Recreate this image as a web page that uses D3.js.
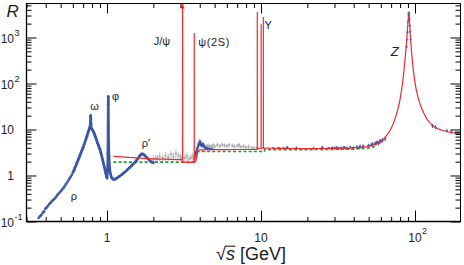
<!DOCTYPE html>
<html><head><meta charset="utf-8">
<script src="https://cdn.jsdelivr.net/npm/d3@7/dist/d3.min.js"></script>
<style>
html,body{margin:0;padding:0;background:#fff;}
svg{display:block;font-family:"Liberation Sans",Arial,Helvetica,sans-serif;}
</style></head><body>
<svg id="c" width="464" height="265"></svg>
<script>
// ---------------- DATA (sqrt(s) in GeV, R) ----------------
const xMajor = [1, 10, 100];
const xTickLabels = [["1",""],["10",""],["10","2"]];
const yMajor = [0.1, 1, 10, 100, 1000];
const yTickLabels = [["10","-1"],["1",""],["10",""],["10","2"],["10","3"]];

// rho tail, sparse blue points
const rhoTail = [[0.36,0.12],[0.368,0.13],[0.375,0.14],[0.383,0.155],[0.39,0.165],[0.398,0.19],[0.405,0.2],[0.412,0.215],[0.42,0.235],[0.428,0.25],[0.436,0.27],[0.445,0.29],[0.455,0.31],[0.463,0.33],[0.472,0.36],[0.48,0.39],[0.49,0.42],[0.5,0.45],[0.51,0.49],[0.52,0.53],[0.53,0.58],[0.54,0.64],[0.55,0.7],[0.56,0.77],[0.57,0.85],[0.58,0.93],[0.59,1.02]];
// dense blue data: rho/omega/phi/rho'
const lowDense = [[0.6,1.15],[0.61,1.3],[0.62,1.5],[0.63,1.7],[0.64,1.95],[0.65,2.2],[0.66,2.5],[0.67,2.85],[0.68,3.25],[0.69,3.65],[0.7,4.1],[0.71,4.7],[0.72,5.4],[0.73,6.2],[0.74,7.1],[0.75,8.2],[0.76,9.4],[0.77,10.5],[0.775,11.5],[0.779,14],[0.782,19],[0.784,20],[0.787,13],[0.79,10.5],[0.8,10],[0.81,9.4],[0.82,8.7],[0.83,7.8],[0.84,7.0],[0.85,6.3],[0.86,5.6],[0.87,5.0],[0.88,4.5],[0.89,4.0],[0.9,3.7],[0.91,3.2],[0.92,2.8],[0.93,2.4],[0.94,2.1],[0.95,1.8],[0.96,1.55],[0.97,1.35],[0.98,1.15],[0.99,0.97],[1.0,0.88],[1.008,1.3],[1.013,3],[1.016,12],[1.018,35],[1.019,52],[1.02,40],[1.022,14],[1.025,5],[1.03,2.6],[1.04,1.5],[1.05,1.1],[1.07,0.9],[1.09,0.84],[1.11,0.82],[1.13,0.84],[1.16,0.88],[1.2,0.95],[1.25,1.05],[1.3,1.17],[1.35,1.32],[1.4,1.48],[1.45,1.65],[1.5,1.85],[1.55,2.1],[1.6,2.4],[1.64,2.75],[1.68,2.95],[1.72,2.9],[1.76,2.7],[1.8,2.5],[1.85,2.3],[1.9,2.1],[1.95,1.95],[2.0,1.9]];
// charm threshold region, blue
const charmBlue = [[3.76,2.6],[3.78,3.0],[3.8,3.3],[3.83,3.6],[3.86,3.9],[3.9,4.2],[3.94,4.6],[3.98,5.1],[4.02,5.4],[4.05,5.0],[4.08,4.6],[4.12,4.4],[4.16,4.7],[4.2,4.8],[4.25,4.4],[4.3,4.1],[4.36,4.0],[4.42,3.9],[4.5,3.85],[4.6,3.8],[4.7,3.75],[4.8,3.8]];
// high energy blue [sqrt s, R, err]
const highBlue = [[12,3.95,0.2],[13,4.0,0.2],[14,3.95,0.2],[14.8,4.1,0.3],[17,3.95,0.3],[22,3.9,0.3],[25,4.1,0.3],[27.5,4.0,0.2],[29,4.05,0.2],[30,3.95,0.3],[31,4.1,0.3],[32,3.9,0.3],[33,4.0,0.3],[34.5,4.15,0.2],[35,4.05,0.2],[36,3.95,0.3],[38,4.15,0.3],[39.8,4.05,0.3],[42,4.2,0.4],[43.6,4.1,0.3],[44,4.3,0.4],[46,4.35,0.4],[50,4.5,0.4],[52,4.65,0.4],[53,4.8,0.5],[55,4.9,0.5],[56,5.1,0.6],[57,5.2,0.5],[58,5.0,0.5],[59,5.5,0.6],[60,5.6,0.6],[61.4,5.8,0.7],[64,6.3,0.7]];
// Z pole points
const zPeak = [[88.2,620],[88.9,900],[89.4,1300],[90.2,2200],[91.0,3200],[91.2,3450],[91.3,3100],[91.5,3300],[92.0,2500],[92.5,1800],[93.0,1350],[93.7,900]];
// LEP2 points [sqrt s, R, err]
const lep2 = [[130,12,1.2],[136,11.2,1.1],[161,9.4,0.8],[172,8.9,0.8],[183,8.6,0.5],[189,8.4,0.4],[192,8.3,0.6]];
// grey data [sqrt s, R, err]
const greyLow = [[2.0,2.2,0.5],[2.07,2.4,0.4],[2.13,2.3,0.5],[2.2,2.6,0.6],[2.3,2.4,0.5],[2.4,2.7,0.6],[2.5,2.5,0.5],[2.6,2.9,0.6],[2.7,2.6,0.5],[2.8,3.0,0.7],[2.9,2.7,0.5],[3.0,2.5,0.5],[3.07,2.3,0.4],[3.2,2.4,0.5],[3.3,2.6,0.6],[3.4,2.3,0.4],[3.5,2.4,0.5],[3.6,2.6,0.5],[3.65,2.3,0.4]];
const greyHigh = [[3.9,4.5,0.8],[3.95,5.0,0.9],[4.0,5.6,1.0],[4.05,5.2,0.8],[4.1,4.7,0.7],[4.15,4.5,0.7],[4.2,4.9,0.8],[4.3,4.4,0.6],[4.4,4.3,0.6],[4.5,4.2,0.6],[4.6,4.4,0.6],[4.75,4.3,0.5],[4.9,4.5,0.6],[5.0,4.3,0.5],[5.2,4.6,0.6],[5.4,4.4,0.5],[5.6,4.7,0.6],[5.8,4.5,0.5],[6.0,4.4,0.5],[6.2,4.6,0.6],[6.5,4.5,0.5],[6.7,4.3,0.5],[7.0,4.4,0.5],[7.2,4.6,0.6],[7.4,4.2,0.4],[7.7,4.3,0.5],[8.0,4.1,0.4],[8.3,4.2,0.5],[8.7,4.0,0.4],[9.0,4.0,0.4],[9.4,3.9,0.3]];
// pQCD prediction (red)
const redCurve = [[1.1,2.6],[1.3,2.5],[1.6,2.4],[2.0,2.3],[2.5,2.25],[3.0,2.22],[3.094,2.22],[3.097,30000],[3.1,1.95],[3.3,1.92],[3.683,1.92],[3.686,1250],[3.689,1.95],[3.75,2.0],[3.82,2.4],[3.9,3.3],[4.0,3.6],[5,3.65],[7,3.67],[9.455,3.68],[9.46,3600],[9.465,3.9],[10.018,3.95],[10.023,1950],[10.028,3.95],[10.352,3.95],[10.355,2800],[10.358,3.95],[11,3.95],[13,3.87],[20,3.85],[30,3.88],[40,4.0],[45,4.1],[50,4.3],[55,4.8],[60,5.5],[65,7.2],[70,10.5],[75,19],[80,45],[84,140],[87,480],[89,1200],[90.3,2400],[91.2,3550],[92.1,2400],[93.5,1000],[96,330],[100,104],[105,48],[110,30],[120,16.5],[135,11.2],[150,9.6],[170,8.6],[196,8.0]];
// naive quark-parton model (green dashed)
const greenCurve = [[1.1,1.95],[3.71,1.95],[3.73,3.33],[10.5,3.33],[10.55,3.62],[20,3.65],[40,3.75],[50,3.95],[55,4.3]];
// annotations [text, sqrt s, R]
const notes = [["ρ",0.61,0.355],["ω",0.83,32],["φ",1.135,53],["ρ′",1.79,4.96],["J/ψ",2.27,850],["Υ",11.15,1900]];

// ---------------- CHART ----------------
const X0 = 26.5, X1 = 460.5, Y0 = 221.5, Y1 = 3.5;
const x = d3.scaleLog().domain([0.3, 197.5]).range([X0, X1]);
const y = d3.scaleLog().domain([0.1, 5480]).range([Y0, Y1]);
const svg = d3.select("#c");

const BLUE = "#3b57a8", RED = "#ee2a2f", GREEN = "#2f952f", GREY = "#bdbdbd";

svg.append("clipPath").attr("id","clip").append("rect")
  .attr("x",X0).attr("y",Y1).attr("width",X1-X0).attr("height",Y0-Y1);
const plot = svg.append("g").attr("clip-path","url(#clip)");

// grey data with error bars
[...greyLow, ...greyHigh].forEach(d=>{
  plot.append("line").attr("x1",x(d[0])).attr("x2",x(d[0]))
    .attr("y1",y(d[1]+d[2])).attr("y2",y(Math.max(d[1]-d[2],0.1)))
    .attr("stroke",GREY).attr("stroke-width",1);
});
plot.selectAll("circle.grey").data([...greyLow, ...greyHigh]).enter().append("circle")
  .attr("cx",d=>x(d[0])).attr("cy",d=>y(d[1])).attr("r",1.2).attr("fill","#b0b0b0");

// green dashed
const line = d3.line().x(d=>x(d[0])).y(d=>y(d[1]));
plot.append("path").attr("d",line(greenCurve)).attr("fill","none")
  .attr("stroke",GREEN).attr("stroke-width",1.6).attr("stroke-dasharray","3,2.2");

// blue data
plot.append("path").attr("d",line(lowDense)).attr("fill","none")
  .attr("stroke",BLUE).attr("stroke-width",2.6).attr("stroke-linejoin","round");
plot.selectAll("circle.rho").data(rhoTail.concat(lowDense)).enter().append("circle")
  .attr("cx",d=>x(d[0])).attr("cy",d=>y(d[1])).attr("r",1.4).attr("fill",BLUE);
plot.append("path").attr("d",line(charmBlue)).attr("fill","none")
  .attr("stroke",BLUE).attr("stroke-width",1.6);
plot.selectAll("circle.ch").data(charmBlue).enter().append("circle")
  .attr("cx",d=>x(d[0])).attr("cy",d=>y(d[1])).attr("r",1.2).attr("fill",BLUE);
[...highBlue, ...lep2].forEach(d=>{
  plot.append("line").attr("x1",x(d[0])).attr("x2",x(d[0]))
    .attr("y1",y(d[1]+d[2])).attr("y2",y(d[1]-d[2]))
    .attr("stroke",BLUE).attr("stroke-width",1);
  plot.append("line").attr("x1",x(d[0])-1.2).attr("x2",x(d[0])+1.2)
    .attr("y1",y(d[1])).attr("y2",y(d[1]))
    .attr("stroke",BLUE).attr("stroke-width",1.2);
});

// red curve
plot.append("path").attr("d",d3.line().x(d=>x(d[0])).y(d=>y(d[1])).curve(d3.curveMonotoneX)(redCurve))
  .attr("fill","none").attr("stroke",RED).attr("stroke-width",1.2);
// Z peak points
plot.selectAll("circle.z").data(zPeak).enter().append("circle")
  .attr("cx",d=>x(d[0])).attr("cy",d=>y(d[1])).attr("r",1.2).attr("fill","#6a5aa8").attr("opacity",0.8);

// arrow on J/psi
const jx = x(3.097);
svg.append("path").attr("d",`M${jx},${Y1+0.5} L${jx-2.2},${Y1+5} L${jx+2.2},${Y1+5} Z`).attr("fill",RED);

// ---------------- AXES ----------------
const minorX = x.ticks().filter(v=>!xMajor.includes(v));
const minorY = y.ticks().filter(v=>!yMajor.some(m=>Math.abs(m-v)<1e-9*m));
function ax(gen, vals, size, tr){
  const g = svg.append("g").attr("transform",tr)
    .call(gen.tickValues(vals).tickSize(size).tickFormat(""));
  g.select(".domain").remove();
  g.selectAll("line").attr("stroke","#000").attr("stroke-width",1);
}
ax(d3.axisBottom(x), minorX, -4.5, `translate(0,${Y0})`);
ax(d3.axisBottom(x), xMajor, -11, `translate(0,${Y0})`);
ax(d3.axisTop(x), minorX, -4.5, `translate(0,${Y1})`);
ax(d3.axisTop(x), xMajor, -10, `translate(0,${Y1})`);
ax(d3.axisLeft(y), minorY, -5, `translate(${X0},0)`);
ax(d3.axisLeft(y), yMajor, -10, `translate(${X0},0)`);
ax(d3.axisRight(y), minorY, -5, `translate(${X1},0)`);
ax(d3.axisRight(y), yMajor, -10, `translate(${X1},0)`);

svg.append("rect").attr("x",X0).attr("y",Y1).attr("width",X1-X0).attr("height",Y0-Y1)
  .attr("fill","none").attr("stroke","#000").attr("stroke-width",1);
svg.append("line").attr("x1",X0).attr("x2",X1).attr("y1",Y0).attr("y2",Y0).attr("stroke","#000").attr("stroke-width",1.5);
svg.append("line").attr("x1",X0).attr("x2",X0).attr("y1",Y1).attr("y2",Y0).attr("stroke","#000").attr("stroke-width",1.3);

// tick labels
const txt = svg.append("g").attr("fill","#222");
xMajor.forEach((v,i)=>{
  const [b,s] = xTickLabels[i];
  txt.append("text").attr("x",x(v)).attr("y",241.5).attr("text-anchor","middle")
    .attr("font-size",12).text(b);
  if(s) txt.append("text").attr("x",x(v)+7).attr("y",234).attr("font-size",9).text(s);
});
yMajor.forEach((v,i)=>{
  const [b,s] = yTickLabels[i];
  const yy = y(v) + (s ? 5.5 : 4.3);
  txt.append("text").attr("x",14).attr("y",yy).attr("text-anchor","end")
    .attr("font-size",12).text(b);
  if(s) txt.append("text").attr("x",14.5).attr("y",yy-7).attr("font-size",9).text(s);
});

// axis titles
txt.append("text").attr("x",6.5).attr("y",17).attr("font-size",17).attr("font-style","italic").text("R");
const xt = txt.append("text").attr("x",251).attr("y",260).attr("text-anchor","middle").attr("font-size",18);
xt.append("tspan").text("√");
xt.append("tspan").attr("font-style","italic").text("s");
xt.append("tspan").text(" [GeV]");
const n = xt.node();
const e0 = n.getExtentOfChar(0), e1 = n.getExtentOfChar(1);
txt.append("line").attr("x1",e0.x+e0.width-1).attr("x2",e1.x+e1.width+0.5)
  .attr("y1",e0.y+2.2).attr("y2",e0.y+2.2).attr("stroke","#222").attr("stroke-width",1.1);

// annotations
notes.forEach(d=>{
  txt.append("text").attr("x",x(d[1])).attr("y",y(d[2])).attr("dy","0.35em")
    .attr("text-anchor","middle").attr("font-size",11).text(d[0]);
});
txt.append("text").attr("x",x(3.92)).attr("y",y(800)).attr("dy","0.35em")
  .attr("font-size",11).attr("letter-spacing",0.6).text("ψ(2S)");
txt.append("text").attr("x",x(74)).attr("y",y(497)).attr("dy","0.36em")
  .attr("text-anchor","middle").attr("font-size",13).attr("font-style","italic").text("Z");
</script>
</body></html>
